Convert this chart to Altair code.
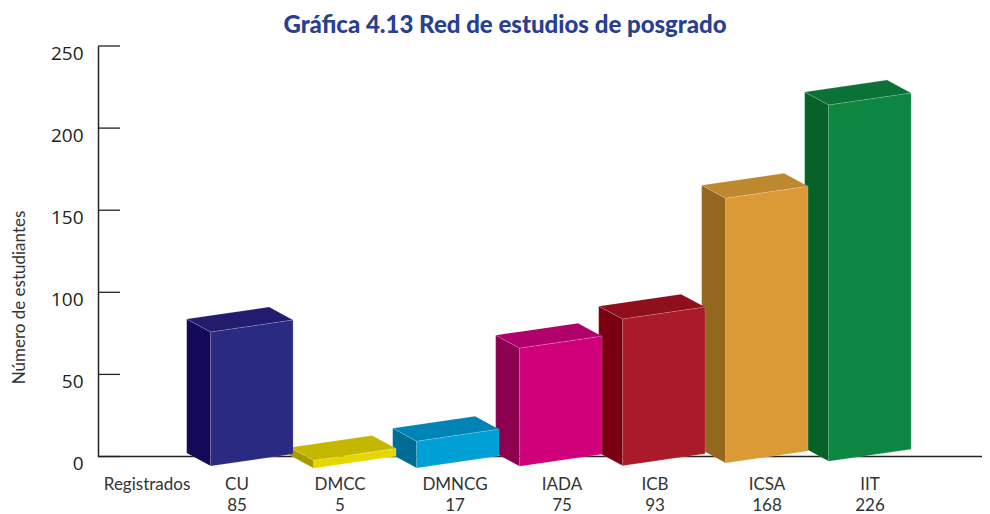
import altair as alt
import pandas as pd

categories = ["CU", "DMCC", "DMNCG", "IADA", "ICB", "ICSA", "IIT"]
values = [85, 5, 17, 75, 93, 168, 226]
front_colors = ["#2a2a82", "#e5d800", "#009fd6", "#cf007a", "#ab1a28", "#dc9a37", "#0c8640"]
side_colors = ["#120a56", "#a59a00", "#006c94", "#8d0050", "#7a0010", "#93681e", "#076228"]
top_colors = ["#231c6e", "#c4b700", "#0084b5", "#b0006a", "#8f0f1c", "#bd882e", "#0a7236"]
floor_drop = [-5.8, -7.2, -7.0, -6.0, -5.6, -4.0, -2.9]
y_ticks = [0, 50, 100, 150, 200, 250]
label_names = ["Registrados", "CU", "DMCC", "DMNCG", "IADA", "ICB", "ICSA", "IIT"]
label_counts = ["", "85", "5", "17", "75", "93", "168", "226"]
label_slots = [0.476, 1.350, 2.350, 3.466, 4.505, 5.408, 6.495, 7.495]

# Projection of the pseudo-3D boxes (x in bar slots, y in axis units)
FIRST = 1.094
WIDTH = 0.80
DEPTH_X = 0.233
DEPTH_Y = 7.9
RISE = 7.3
HEIGHT_SCALE = 0.96
PLOT_W = 884
X_MAX = PLOT_W / 103

rows = []
for i in range(len(categories) - 1, -1, -1):
    xl = FIRST + i
    xr = xl + WIDTH
    bottom = floor_drop[i]
    top = bottom + values[i] * HEIGHT_SCALE
    name = categories[i]
    # side face
    rows += [
        dict(face=name + "-s", fill=side_colors[i], x=xl - DEPTH_X, y=bottom + DEPTH_Y, y2=top + DEPTH_Y),
        dict(face=name + "-s", fill=side_colors[i], x=xl, y=bottom, y2=top),
    ]
    # top face
    slope = RISE / WIDTH
    rows += [
        dict(face=name + "-t", fill=top_colors[i], x=xl - DEPTH_X, y=top + DEPTH_Y, y2=top + DEPTH_Y),
        dict(face=name + "-t", fill=top_colors[i], x=xl, y=top, y2=top + DEPTH_Y + slope * DEPTH_X),
        dict(face=name + "-t", fill=top_colors[i], x=xr - DEPTH_X, y=top + slope * (WIDTH - DEPTH_X), y2=top + DEPTH_Y + RISE),
        dict(face=name + "-t", fill=top_colors[i], x=xr, y=top + RISE, y2=top + RISE),
    ]
    # front face
    rows += [
        dict(face=name + "-f", fill=front_colors[i], x=xl, y=bottom, y2=top),
        dict(face=name + "-f", fill=front_colors[i], x=xr, y=bottom + RISE, y2=top + RISE),
    ]
faces = pd.DataFrame(rows)

x_scale = alt.Scale(domain=[0, X_MAX], nice=False, zero=False)
y_scale = alt.Scale(domain=[0, 250], nice=False)
NARROW = "Lato"

base_axes = alt.Chart(pd.DataFrame({"t": y_ticks})).mark_rule(color="#222222", strokeWidth=1.3).encode(
    y=alt.Y("t:Q", scale=y_scale, axis=alt.Axis(
        values=y_ticks, grid=False, ticks=False, domain=True, domainColor="#222222", domainWidth=1.5,
        labelFont="Open Sans", labelFontSize=19, labelColor="#222222", labelBaseline="top",
        labelOffset=-2, labelPadding=15, title="Número de estudiantes", titleFont=NARROW, titleFontSize=17,
        titleFontWeight="normal", titleColor="#333333", titlePadding=22, titleY=251)),
    x=alt.value(0),
    x2=alt.value(22),
)

floor = alt.Chart(pd.DataFrame({"t": [0]})).mark_rule(color="#222222", strokeWidth=1.5).encode(
    y=alt.Y("t:Q", scale=y_scale),
    x=alt.value(0),
    x2=alt.value(PLOT_W),
)

boxes = alt.Chart(faces).mark_area(
    interpolate="linear", stroke="#ffffff", strokeOpacity=0.25, strokeWidth=0.6
).encode(
    x=alt.X("x:Q", scale=x_scale, axis=None),
    y=alt.Y("y:Q", scale=y_scale),
    y2="y2:Q",
    detail="face:N",
    color=alt.Color("fill:N", scale=None),
)

labels_df = pd.DataFrame({"x": label_slots, "name": label_names, "count": label_counts})
names = alt.Chart(labels_df).mark_text(font=NARROW, fontSize=17, color="#333333", baseline="middle").encode(
    x=alt.X("x:Q", scale=x_scale),
    y=alt.value(439),
    text="name:N",
)
counts = alt.Chart(labels_df).mark_text(font=NARROW, fontSize=17, color="#333333", baseline="middle").encode(
    x=alt.X("x:Q", scale=x_scale),
    y=alt.value(460),
    text="count:N",
)

chart = alt.layer(base_axes, floor, boxes, names, counts).properties(
    width=PLOT_W,
    height=410.5,
    padding={"left": 90, "top": 38, "right": 0, "bottom": 58},
    autosize=alt.AutoSizeParams(type="none"),
    title=alt.TitleParams(
        "Gráfica 4.13 Red de estudios de posgrado", font=NARROW, fontSize=24, fontWeight=900,
        color="#27408f", anchor="middle", dx=-35, offset=6,
    ),
).configure_view(stroke=None)

chart.save("out.html", embed_options={"renderer": "svg", "actions": False})
